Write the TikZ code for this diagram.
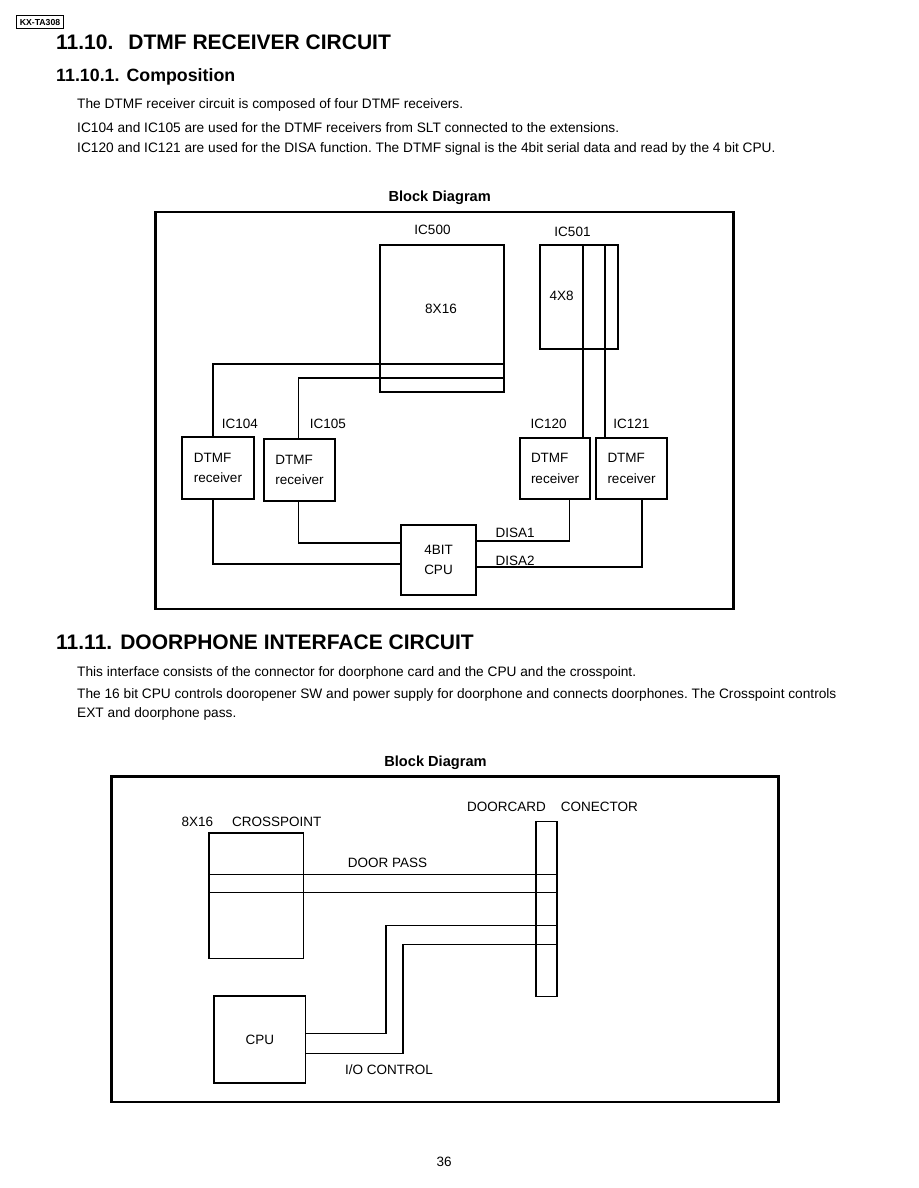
\documentclass[tikz,border=0pt]{standalone}
\usepackage{fontspec}
\setmainfont{Liberation Sans}
\frenchspacing
\begin{document}
\begin{tikzpicture}[x=1pt, y=-1pt,
  blk/.style={draw, line width=1.1pt, inner sep=0pt, align=left, font=\fontsize{13.5}{20.5}\selectfont},
  lbl/.style={anchor=base, inner sep=0pt, font=\fontsize{13.5}{16}\selectfont},
  txt/.style={anchor=base west, inner sep=0pt, font=\fontsize{13.7}{16}\selectfont},
  frm/.style={draw, line width=2.8pt, inner sep=0pt},
  wire/.style={line width=1.1pt}]
\useasboundingbox (0,0) rectangle (918,1188);

% page head
\node[draw, line width=0.8pt, inner sep=0pt, minimum width=46.6, minimum height=13, font=\bfseries\fontsize{8.7}{10}\selectfont] (model) at (40,22.2) {KX-TA308};
\node[anchor=base west, inner sep=0pt, font=\bfseries\fontsize{21}{24}\selectfont] (head1) at (56,50) {11.10.\hspace{15pt}DTMF RECEIVER CIRCUIT};
\node[anchor=base west, inner sep=0pt, font=\bfseries\fontsize{17.8}{20}\selectfont] (head2) at (56,81.5) {11.10.1.\hspace{7pt}Composition};
\node[txt] (line1) at (77,109) {The DTMF receiver circuit is composed of four DTMF receivers.};
\node[txt] (line2) at (77,132) {IC104 and IC105 are used for the DTMF receivers from SLT connected to the extensions.};
\node[txt] (line3) at (77,153) {IC120 and IC121 are used for the DISA function. The DTMF signal is the 4bit serial data and read by the 4 bit CPU.};

% DTMF block diagram
\node[anchor=base, inner sep=0pt, font=\bfseries\fontsize{14.6}{16}\selectfont] (bd1) at (439.7,201.7) {Block Diagram};
\node[frm, minimum width=578.2, minimum height=397] (frame1) at (444.6,410.5) {};

\node[blk, minimum width=124, minimum height=147] (ic500) at (442,318.5) {};
\node[blk, minimum width=78, minimum height=104] (ic501) at (579,297) {};
\node[lbl] (n500) at (432.5,234.3) {IC500};
\node[lbl] (n501) at (572.5,236) {IC501};
\node[lbl] (x816) at (441,313.3) {8X16};
\node[lbl] (x48) at (561.6,300) {4X8};

\node[blk, minimum width=72, minimum height=62] (ic104) at (218,468) {DTMF\\receiver};
\node[blk, minimum width=71, minimum height=62] (ic105) at (299.5,470) {DTMF\\receiver};
\node[blk, minimum width=70, minimum height=61] (ic120) at (555,468.5) {DTMF\\receiver};
\node[blk, minimum width=71, minimum height=61] (ic121) at (631.5,468.5) {DTMF\\receiver};
\node[lbl] (n104) at (239.8,428.3) {IC104};
\node[lbl] (n105) at (327.9,428.3) {IC105};
\node[lbl] (n120) at (548.7,428.3) {IC120};
\node[lbl] (n121) at (631.3,428.3) {IC121};

\node[blk, minimum width=75, minimum height=70] (cpu) at (438.5,560) {4BIT\\CPU};
\node[lbl, anchor=base west] (disa1) at (495.3,537.7) {DISA1};
\node[lbl, anchor=base west] (disa2) at (495.3,565.7) {DISA2};

\coordinate (ic500a) at (504,364);
\coordinate (ic500b) at (504,378);
\coordinate (tap1) at (583,245);
\coordinate (tap2) at (605,245);
\draw[wire] ([xshift=-5pt]ic104.north) |- (ic500a);
\draw[wire] ([xshift=-1pt]ic105.north) |- (ic500b);
\draw[wire] (tap1) -- (tap1 |- ic120.north);
\draw[wire] (tap2) -- (tap2 |- ic121.north);
\draw[wire] ([xshift=-5pt]ic104.south) |- ([yshift=-4pt]cpu.west);
\draw[wire] ([xshift=-1pt]ic105.south) |- ([yshift=17pt]cpu.west);
\draw[wire] ([yshift=19pt]cpu.east) -| ([xshift=14.5pt]ic120.south);
\draw[wire] ([yshift=-7pt]cpu.east) -| ([xshift=10.5pt]ic121.south);

% doorphone section
\node[anchor=base west, inner sep=0pt, font=\bfseries\fontsize{21}{24}\selectfont] (head3) at (56,649.3) {11.11.\hspace{8pt}DOORPHONE INTERFACE CIRCUIT};
\node[txt] (line4) at (77,676) {This interface consists of the connector for doorphone card and the CPU and the crosspoint.};
\node[txt] (line5) at (77,698) {The 16 bit CPU controls dooropener SW and power supply for doorphone and connects doorphones. The Crosspoint controls};
\node[txt] (line6) at (77,717) {EXT and doorphone pass.};

\node[anchor=base, inner sep=0pt, font=\bfseries\fontsize{14.6}{16}\selectfont] (bd2) at (435.5,766.7) {Block Diagram};
\node[frm, minimum width=666.8, minimum height=325.3] (frame2) at (444.9,939.35) {};

\node[blk, minimum width=94.5, minimum height=125.7] (xp) at (256.25,895.85) {};
\node[blk, minimum width=21, minimum height=175] (conn) at (546.5,909.2) {};
\node[blk, minimum width=91.7, minimum height=87] (cpu2) at (259.85,1039.5) {CPU};
\node[lbl, anchor=base west] (nxp) at (181.5,826) {8X16\hspace{19pt}CROSSPOINT};
\node[lbl, anchor=base west] (nconn) at (467,811.7) {DOORCARD\hspace{15pt}CONECTOR};
\node[lbl, anchor=base west] (npass) at (347.6,867.3) {DOOR PASS};
\node[lbl, anchor=base west] (nio) at (345,1074.3) {I/O CONTROL};

\path ([yshift=21.15pt]xp.west) coordinate (dp1);
\path ([yshift=3.15pt]xp.west) coordinate (dp2);
\draw[wire] (dp1) -- (dp1 -| conn.east);
\draw[wire] (dp2) -- (dp2 -| conn.east);
\path ([yshift=6.2pt]cpu2.east) coordinate (io1);
\path ([yshift=-14.2pt]cpu2.east) coordinate (io2);
\coordinate (bend1) at (386,925.7);
\coordinate (bend2) at (403,944.7);
\draw[wire] (io1) -| (bend1) -- (bend1 -| conn.east);
\draw[wire] (io2) -| (bend2) -- (bend2 -| conn.east);

\node[lbl] (page) at (444.2,1166.7) {36};
\end{tikzpicture}
\end{document}
